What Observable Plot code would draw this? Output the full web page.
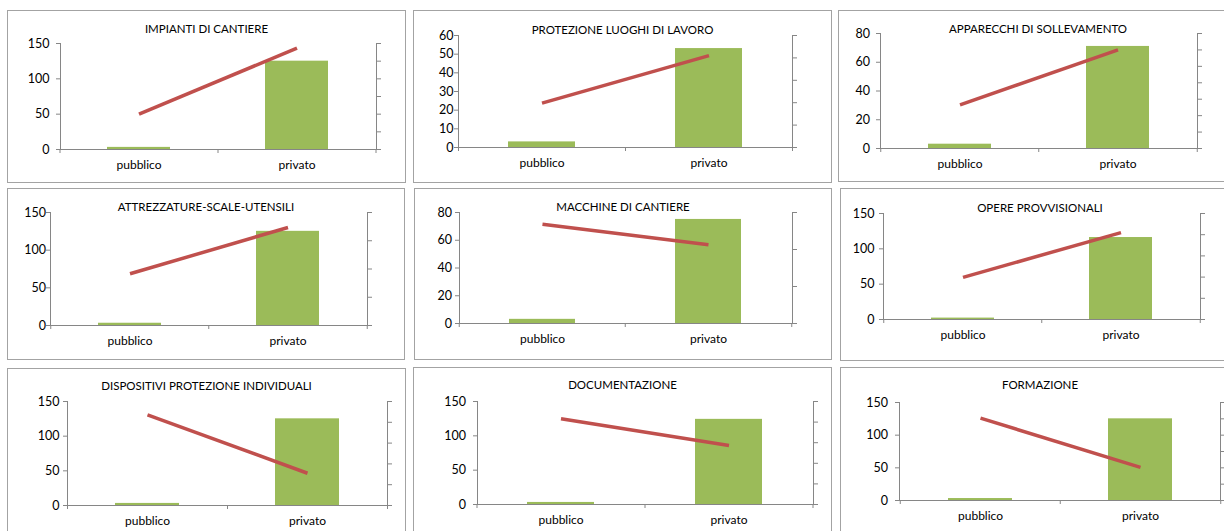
<!DOCTYPE html>
<html><head><meta charset="utf-8">
<script src="https://cdn.jsdelivr.net/npm/d3@7"></script>
<script src="https://cdn.jsdelivr.net/npm/@observablehq/plot@0.6"></script>
<style>
html,body{margin:0;padding:0;background:#fff;}
#root{position:relative;width:1224px;height:531px;overflow:hidden;background:#fff;font-family:Lato,"Open Sans",sans-serif;}
.panel{position:absolute;}
.panel svg{position:absolute;left:0;top:0;}
.frame{position:absolute;left:0;top:0;right:0;bottom:0;border:1px solid #a3a3a3;pointer-events:none;}
.title{position:absolute;left:0;right:0;text-align:center;font-size:11.5px;line-height:16px;height:16px;color:#000;white-space:nowrap;}
</style></head><body><div id="root"></div>
<script>
// ---- data ----
const categories = ["pubblico", "privato"];
const titles = [
  "IMPIANTI DI CANTIERE", "PROTEZIONE LUOGHI DI LAVORO", "APPARECCHI DI SOLLEVAMENTO",
  "ATTREZZATURE-SCALE-UTENSILI", "MACCHINE DI CANTIERE", "OPERE PROVVISIONALI",
  "DISPOSITIVI PROTEZIONE INDIVIDUALI", "DOCUMENTAZIONE", "FORMAZIONE"
];
const barPubblico = [3, 3, 3, 3, 3, 2, 3, 3, 3];
const barPrivato  = [125, 53, 71, 125, 75, 116, 125, 124, 125];
const leftMax  = [150, 60, 80, 150, 80, 150, 150, 150, 150];
const leftStep = [50, 10, 20, 50, 20, 50, 50, 50, 50];
// secondary (unlabelled) axis: number of unit steps
const rightSteps = [6, 5, 7, 4, 3, 5, 5, 5, 6];
const linePubblico = [2.00, 1.98, 2.66, 1.83, 2.68, 1.99, 4.36, 4.16, 5.04];
const linePrivato  = [5.74, 4.10, 6.00, 3.47, 2.13, 4.10, 1.55, 2.86, 2.03];

// ---- layout (page positions / margins) ----
const layout = [
  {left: 7,   top: 10,  w: 399, h: 173, ml: 53, mr: 30, mt: 33, mb: 34, ty: 19, pad: 7},
  {left: 413, top: 10,  w: 419, h: 173, ml: 45, mr: 40, mt: 25, mb: 36, ty: 20, pad: 1},
  {left: 838, top: 10,  w: 400, h: 172, ml: 42, mr: 41, mt: 23, mb: 34, ty: 18.5, pad: 6.5},
  {left: 7,   top: 188, w: 398, h: 172, ml: 43, mr: 38, mt: 24, mb: 35, ty: 19, pad: 0.5},
  {left: 414, top: 188, w: 418, h: 172, ml: 45, mr: 40, mt: 24, mb: 37, ty: 18.5, pad: 3.5},
  {left: 840, top: 188, w: 400, h: 173, ml: 43, mr: 40, mt: 25, mb: 42, ty: 20, pad: 5},
  {left: 7,   top: 368, w: 399, h: 175, ml: 60, mr: 19, mt: 33, mb: 38, ty: 18, pad: 4},
  {left: 413, top: 367, w: 419, h: 176, ml: 64, mr: 19, mt: 34, mb: 39, ty: 18, pad: 7.5},
  {left: 840, top: 367, w: 400, h: 176, ml: 59, mr: 20, mt: 35, mb: 43, ty: 18, pad: 7.5}
];

const GREEN = "#9bbb59", RED = "#c0504d", AXIS = "#868686";
const FONT = "Lato, 'Open Sans', sans-serif";
const root = document.getElementById("root");

titles.forEach((title, i) => {
  const L = layout[i];
  const panel = document.createElement("div");
  panel.className = "panel";
  Object.assign(panel.style, {left: L.left + "px", top: L.top + "px", width: L.w + "px", height: L.h + "px"});
  root.appendChild(panel);

  const bars = [
    {cat: categories[0], value: barPubblico[i]},
    {cat: categories[1], value: barPrivato[i]}
  ];
  const line = [
    {cat: categories[0], value: linePubblico[i]},
    {cat: categories[1], value: linePrivato[i]}
  ];
  const step = (L.w - L.ml - L.mr) / categories.length;
  const common = {
    width: L.w, height: L.h,
    marginLeft: L.ml, marginRight: L.mr, marginTop: L.mt, marginBottom: L.mb,
    style: {background: "transparent", fontFamily: FONT, fontSize: "12px", color: "#000", overflow: "visible"},
    x: {type: "band", domain: categories, paddingInner: 0.6, paddingOuter: 0.3, axis: null}
  };

  // primary plot: bars + left axis + category axis
  const primary = Plot.plot({
    ...common,
    y: {domain: [0, leftMax[i]], axis: null},
    marks: [
      Plot.barY(bars, {x: "cat", y: "value", fill: GREEN}),
      Plot.frame({anchor: "left", stroke: AXIS}),
      Plot.ruleY([0], {stroke: AXIS}),
      Plot.axisY({ticks: d3.range(0, leftMax[i] + 1, leftStep[i]), tickSize: 4, tickPadding: L.pad,
                  stroke: AXIS, color: "#000", fontSize: 12.5, label: null}),
      Plot.ruleX(categories, {x: d => d, dx: -step / 2, y1: 0, y2: 0, insetBottom: -4, stroke: AXIS}),
      Plot.ruleX(categories.slice(-1), {x: d => d, dx: step / 2, y1: 0, y2: 0, insetBottom: -4, stroke: AXIS}),
      Plot.axisX({tickSize: 0, tickPadding: 11, color: "#000", fontSize: 12, label: null})
    ]
  });
  panel.appendChild(primary);

  // secondary plot: line + right (unlabelled) axis
  const secondary = Plot.plot({
    ...common,
    y: {domain: [0, rightSteps[i]], axis: null},
    marks: [
      Plot.frame({anchor: "right", stroke: AXIS}),
      Plot.axisY({anchor: "right", ticks: d3.range(0, rightSteps[i] + 1), tickSize: 4,
                  tickFormat: () => "", stroke: AXIS, label: null}),
      Plot.lineY(line, {x: "cat", y: "value", stroke: RED, strokeWidth: 3.5, strokeLinecap: "butt"})
    ]
  });
  panel.appendChild(secondary);

  const t = document.createElement("div");
  t.className = "title";
  t.style.top = (L.ty - 8) + "px";
  t.textContent = title;
  panel.appendChild(t);

  const f = document.createElement("div");
  f.className = "frame";
  panel.appendChild(f);
});
</script></body></html>
